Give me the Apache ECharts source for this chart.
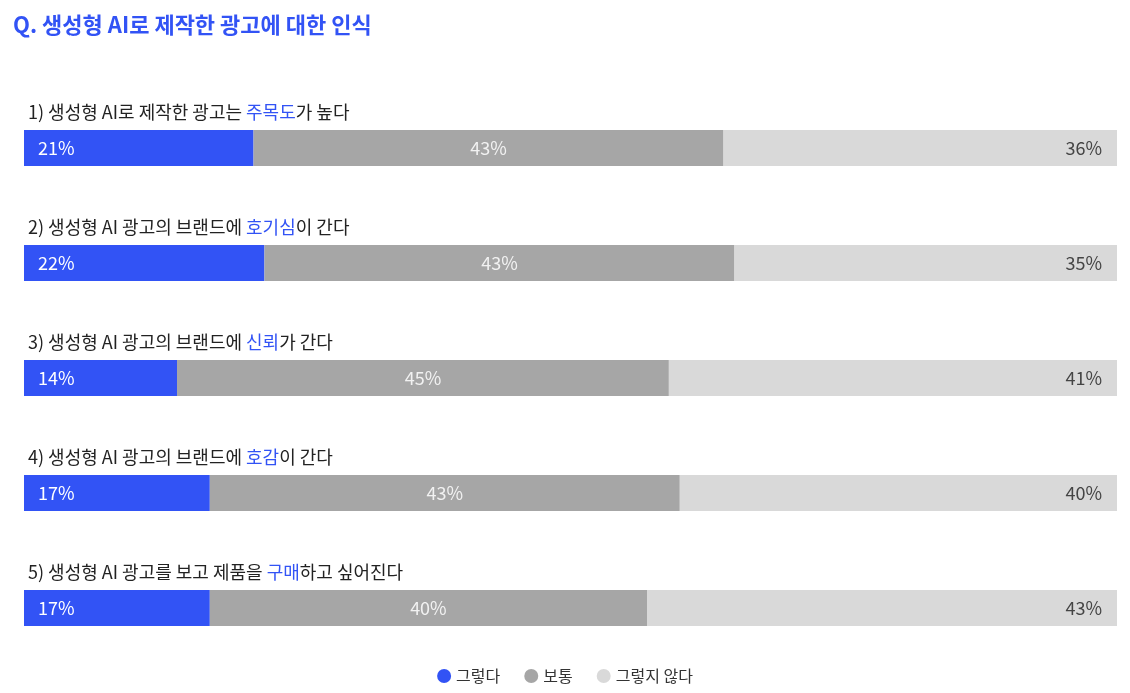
<!DOCTYPE html>
<html><head><meta charset="utf-8">
<script src="https://cdn.jsdelivr.net/npm/echarts@6/dist/echarts.min.js"></script>
<style>html,body{margin:0;padding:0;background:#fff}#c{width:1130px;height:693px}</style>
</head><body><div id="c"></div>
<script>
const titleText = 'Q. 생성형 AI로 제작한 광고에 대한 인식';
const labelPre = ['1) 생성형 AI로 제작한 광고는 ', '2) 생성형 AI 광고의 브랜드에 ', '3) 생성형 AI 광고의 브랜드에 ', '4) 생성형 AI 광고의 브랜드에 ', '5) 생성형 AI 광고를 보고 제품을 '];
const labelHi = ['주목도', '호기심', '신뢰', '호감', '구매'];
const labelPost = ['가 높다', '이 간다', '가 간다', '이 간다', '하고 싶어진다'];
const seriesNames = ['그렇다', '보통', '그렇지 않다'];
const yes = [21, 22, 14, 17, 17];
const neutral = [43, 43, 45, 43, 40];
const no = [36, 35, 41, 40, 43];

const FONT = '"Noto Sans CJK KR", "Noto Sans", sans-serif';
const colors = ['#3253f5', '#a6a6a6', '#d9d9d9'];
const cats = labelPre.map((p, i) => p + '|' + i);

const chart = echarts.init(document.getElementById('c'));
chart.setOption({
  animation: false,
  textStyle: { fontFamily: FONT },
  title: { text: titleText, left: 8, top: 9, textStyle: { color: '#3253f5', fontSize: 22, fontWeight: 'bold', fontFamily: FONT } },
  legend: {
    bottom: 4, left: 'center', icon: 'circle', itemWidth: 14, itemHeight: 14, itemGap: 24,
    textStyle: { fontSize: 16, color: '#333', fontFamily: FONT },
    data: seriesNames
  },
  grid: { left: 24, right: 13, top: 90.5, bottom: 27.5 },
  xAxis: { type: 'value', min: 0, max: 100, show: false },
  yAxis: {
    type: 'category', inverse: true, data: cats,
    axisLine: { show: false }, axisTick: { show: false },
    axisLabel: {
      inside: true, align: 'left', verticalAlign: 'bottom', margin: 4, padding: [0, 0, 27, 0],
      formatter: (v) => { const i = +v.split('|')[1]; return '{a|' + labelPre[i] + '}{b|' + labelHi[i] + '}{a|' + labelPost[i] + '}'; },
      rich: {
        a: { fontSize: 18, color: '#222', fontFamily: FONT },
        b: { fontSize: 18, color: '#3253f5', fontFamily: FONT }
      }
    },
    z: 10
  },
  series: [
    { name: seriesNames[0], type: 'bar', stack: 's', data: yes, barWidth: 36, itemStyle: { color: colors[0] },
      label: { show: true, position: 'insideLeft', distance: 14, formatter: '{c}%', color: '#fff', fontSize: 18, fontFamily: FONT } },
    { name: seriesNames[1], type: 'bar', stack: 's', data: neutral, barWidth: 36, itemStyle: { color: colors[1] },
      label: { show: true, position: 'inside', formatter: '{c}%', color: '#f2f2f2', fontSize: 18, fontFamily: FONT } },
    { name: seriesNames[2], type: 'bar', stack: 's', data: no, barWidth: 36, itemStyle: { color: colors[2] },
      label: { show: true, position: 'insideRight', distance: 15, formatter: '{c}%', color: '#444', fontSize: 18, fontFamily: FONT } }
  ]
});
</script></body></html>
